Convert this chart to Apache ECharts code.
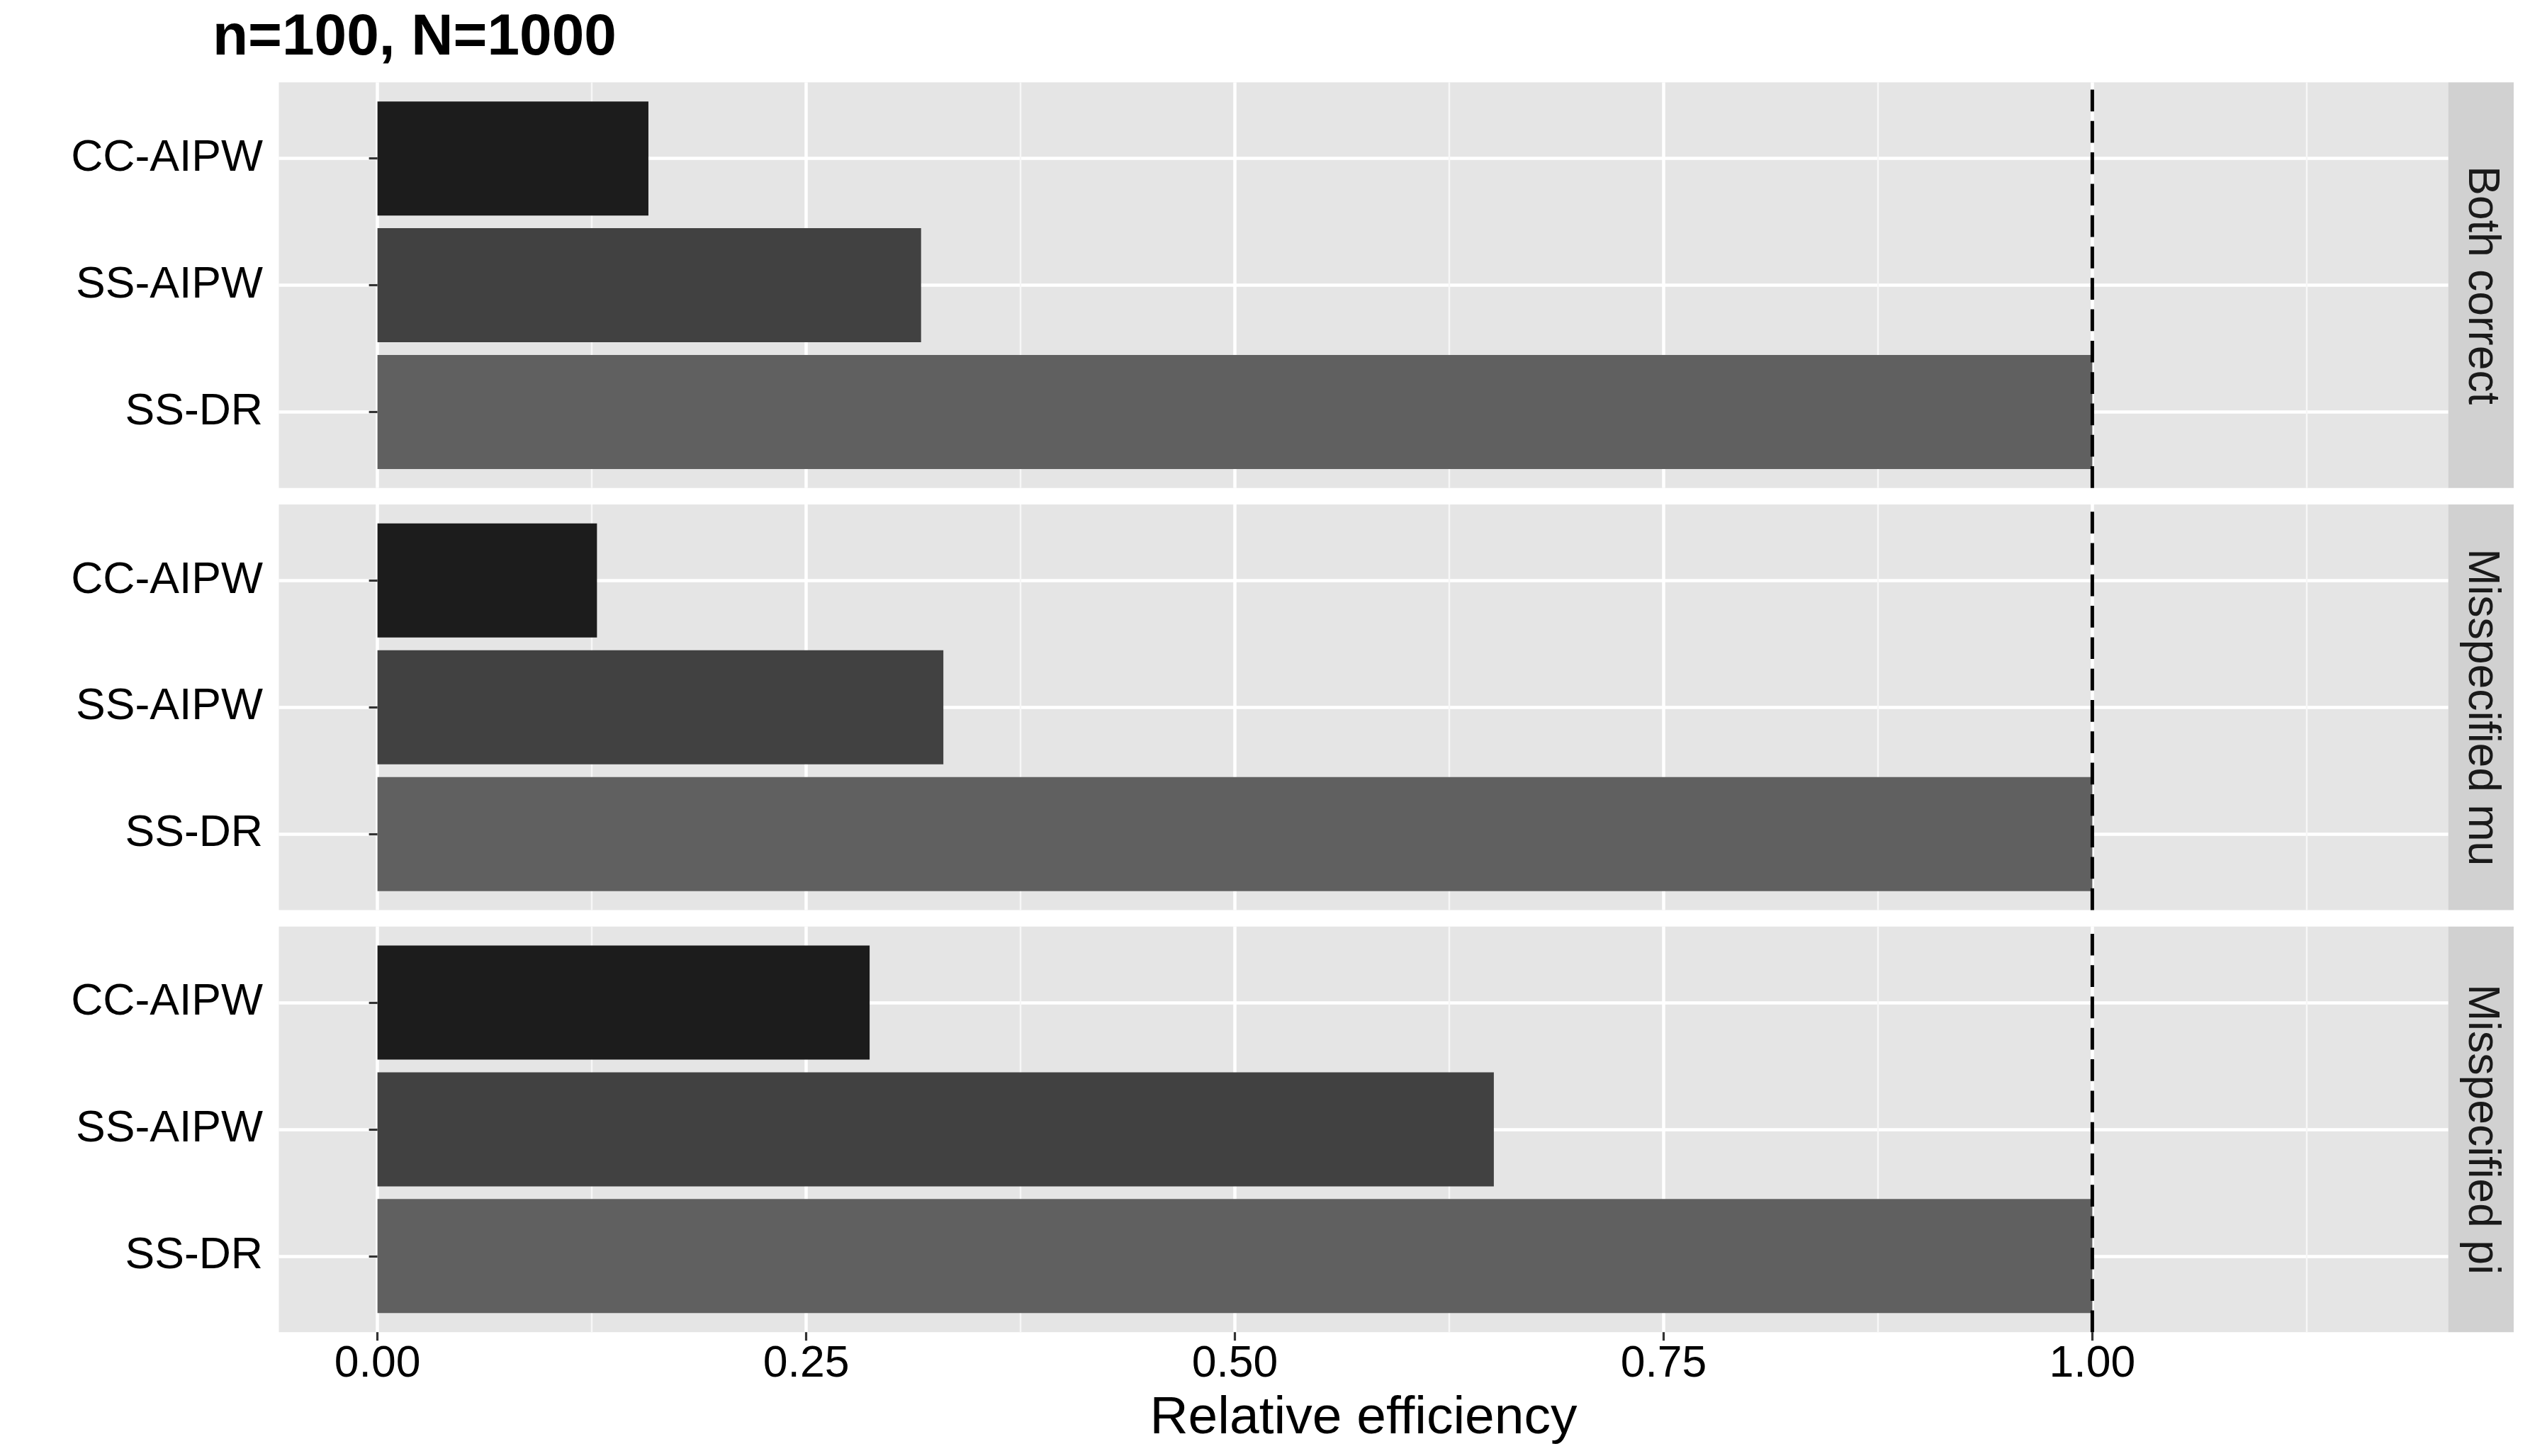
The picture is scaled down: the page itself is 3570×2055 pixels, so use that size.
<!DOCTYPE html>
<html><head><meta charset="utf-8">
<script src="https://cdn.jsdelivr.net/npm/echarts@6/dist/echarts.min.js"></script>
<style>html,body{margin:0;padding:0;background:#fff}#chart{width:3570px;height:2055px}</style>
</head><body><div id="chart"></div>
<script>
// ---- data ----
const categories = ['CC-AIPW', 'SS-AIPW', 'SS-DR'];
const panelLabels = ['Both correct', 'Misspecified mu', 'Misspecified pi'];
const bothCorrect = [0.158, 0.317, 1.000];
const misspecifiedMu = [0.128, 0.330, 1.000];
const misspecifiedPi = [0.287, 0.651, 1.000];
const tickValues = [0, 0.25, 0.5, 0.75, 1.0];
const tickLabels = ['0.00', '0.25', '0.50', '0.75', '1.00'];
const minorTickValues = [0.125, 0.375, 0.625, 0.875, 1.125];
const referenceLine = 1.0;
const xLimits = [-0.0575, 1.2075];
const titleText = 'n=100, N=1000';
const xAxisTitle = 'Relative efficiency';

// ---- styling / layout ----
const panelValues = [bothCorrect, misspecifiedMu, misspecifiedPi];
const barColors = ['#1C1C1C', '#414141', '#606060'];
const FONT = "'Liberation Sans', Arial, Helvetica, sans-serif";
const L = 393.5, W = 3061, H = 572.5;
const tops = [116.3, 712, 1307.7];
const band = H / 3.2;
const stripW = 92.5;

const grid = [], xAxis = [], yAxis = [], series = [], graphic = [];
for (let i = 0; i < 3; i++) {
  const bottom = i === 2;
  grid.push({left: L, top: tops[i], width: W, height: H, show: true, backgroundColor: '#E5E5E5', borderWidth: 0});
  grid.push({left: L, top: tops[i] + 0.6 * band, width: W, height: 2 * band, show: false});
  // major x axis (outer grid)
  xAxis.push({
    type: 'value', gridIndex: 2 * i, min: xLimits[0], max: xLimits[1], position: 'bottom',
    axisLine: {show: false},
    axisTick: {show: bottom, customValues: tickValues, length: 12, lineStyle: {color: '#333333', width: 3.2}},
    axisLabel: {show: bottom, customValues: tickValues, margin: 14.5, fontSize: 62.5, color: '#000', fontFamily: FONT,
      formatter: v => { const k = tickValues.findIndex(t => Math.abs(t - v) < 1e-9); return k >= 0 ? tickLabels[k] : v.toFixed(2); }},
    splitLine: {show: true, lineStyle: {color: '#FFFFFF', width: 4.5}},
    name: bottom ? xAxisTitle : '', nameLocation: 'middle', nameGap: 85,
    nameTextStyle: {fontSize: 75, color: '#000', fontFamily: FONT}
  });
  // minor x axis (outer grid)
  xAxis.push({
    type: 'value', gridIndex: 2 * i, min: xLimits[0], max: xLimits[1], position: 'top',
    axisLine: {show: false},
    axisTick: {show: false, customValues: minorTickValues},
    axisLabel: {show: false, customValues: minorTickValues},
    splitLine: {show: true, lineStyle: {color: '#F7F7F7', width: 2.4}}
  });
  // inner x axis for bars
  xAxis.push({type: 'value', gridIndex: 2 * i + 1, min: xLimits[0], max: xLimits[1], show: false});
  yAxis.push({type: 'value', gridIndex: 2 * i, min: 0, max: 1, show: false});
  yAxis.push({
    type: 'category', gridIndex: 2 * i + 1, data: categories, inverse: true, boundaryGap: false,
    axisLine: {show: false},
    axisTick: {show: true, length: 12, lineStyle: {color: '#333333', width: 3.2}},
    axisLabel: {margin: 22.5, fontSize: 62.5, color: '#000', fontFamily: FONT, interval: 0},
    splitLine: {show: true, lineStyle: {color: '#FFFFFF', width: 4.5}}
  });
  series.push({
    type: 'bar', xAxisIndex: 3 * i + 2, yAxisIndex: 2 * i + 1, barWidth: '90%', clip: false, silent: true,
    data: panelValues[i].map((v, j) => ({value: v, itemStyle: {color: barColors[j]}}))
  });
  series.push({
    type: 'line', xAxisIndex: 3 * i, yAxisIndex: 2 * i, z: 5, symbol: 'none', silent: true,
    data: [[referenceLine, 0], [referenceLine, 1]],
    lineStyle: {color: '#000', width: 5, type: [30.7, 13.6], cap: 'butt'}
  });
  graphic.push({type: 'rect', shape: {x: L + W, y: tops[i], width: stripW, height: H}, style: {fill: '#D1D1D1'}, silent: true});
  graphic.push({type: 'text', x: L + W + stripW / 2, y: tops[i] + H / 2, rotation: -Math.PI / 2, silent: true,
    style: {text: panelLabels[i], fill: '#1A1A1A', fontSize: 62.5, fontFamily: FONT,
      align: 'center', verticalAlign: 'middle', textAlign: 'center', textVerticalAlign: 'middle'}});
}

const chart = echarts.init(document.getElementById('chart'), null, {renderer: 'canvas'});
chart.setOption({
  animation: false,
  backgroundColor: '#FFFFFF',
  title: {text: titleText, left: 300, top: 13.7, padding: 0,
    textStyle: {fontSize: 82, fontWeight: 'bold', color: '#000', fontFamily: FONT}},
  grid, xAxis, yAxis, series, graphic
});
</script></body></html>
